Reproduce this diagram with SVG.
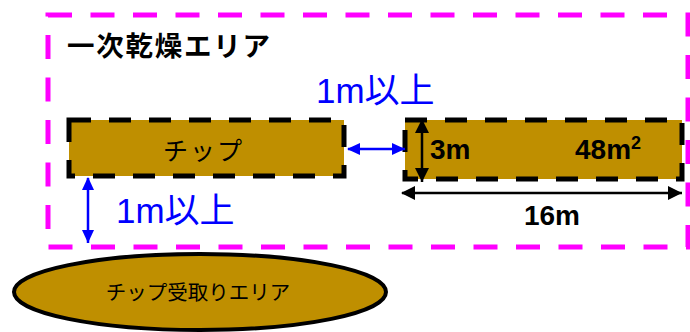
<svg xmlns="http://www.w3.org/2000/svg" width="690" height="332" viewBox="0 0 690 332">
<style>
.area{fill:none;stroke:#FF00FF;stroke-width:5;stroke-dasharray:24 18.5}
.box{fill:#BF8F00;stroke:#000;stroke-width:5;stroke-dasharray:22 18}
.oval{fill:#BF8F00;stroke:#000;stroke-width:4}
.jp{font-family:"Noto Sans CJK JP","Liberation Sans",sans-serif;fill:#000}
.blue{font-family:"Liberation Sans","Noto Sans CJK JP",sans-serif;fill:#0000FF;font-size:35px}
.dim{font-family:"Liberation Sans",sans-serif;font-weight:bold;font-size:28px;fill:#000}
.barr{stroke:#0000FF;stroke-width:2.5;fill:none;marker-start:url(#bs);marker-end:url(#be)}
.karr{stroke:#000;stroke-width:2.5;fill:none;marker-start:url(#ks);marker-end:url(#ke)}
</style>
<defs>
<marker id="be" markerUnits="userSpaceOnUse" markerWidth="14" markerHeight="12" refX="13" refY="6" orient="auto"><path d="M0,0 L13,6 L0,12 Z" fill="#0000FF"/></marker>
<marker id="bs" markerUnits="userSpaceOnUse" markerWidth="14" markerHeight="12" refX="1" refY="6" orient="auto"><path d="M13,0 L0,6 L13,12 Z" fill="#0000FF"/></marker>
<marker id="ke" markerUnits="userSpaceOnUse" markerWidth="15" markerHeight="14" refX="14" refY="7" orient="auto"><path d="M0,0 L14,7 L0,14 Z" fill="#000"/></marker>
<marker id="ks" markerUnits="userSpaceOnUse" markerWidth="15" markerHeight="14" refX="1" refY="7" orient="auto"><path d="M14,0 L0,7 L14,14 Z" fill="#000"/></marker>
</defs>
<g id="drying-area">
<rect class="area" x="48" y="15" width="640" height="232"/>
<text class="jp" x="67" y="56" font-size="27.5" font-weight="bold" textLength="203" lengthAdjust="spacing">一次乾燥エリア</text>
</g>
<g id="chip">
<rect class="box" x="69" y="120" width="275" height="56"/>
<text class="jp" x="163" y="160" font-size="25" textLength="79" lengthAdjust="spacing">チップ</text>
</g>
<g id="area48">
<rect class="box" x="405" y="120" width="277" height="59"/>
<text class="dim" x="430" y="159">3m</text>
<text class="dim" x="575" y="159">48m<tspan font-size="18" dy="-10">2</tspan></text>
</g>
<g id="receiving">
<ellipse class="oval" cx="200" cy="292" rx="186" ry="38"/>
<text class="jp" x="198" y="300" font-size="20.5" text-anchor="middle">チップ受取りエリア</text>
</g>
<g id="connectors">
<line class="barr" x1="348" y1="149" x2="405" y2="149"/>
<line class="barr" x1="88" y1="178" x2="88" y2="243"/>
<line class="karr" x1="422" y1="120" x2="422" y2="182"/>
<line class="karr" x1="402" y1="193" x2="682" y2="193"/>
</g>
<g id="labels">
<text class="blue" x="316" y="103">1m以上</text>
<text class="blue" x="116" y="223">1m以上</text>
<text class="dim" x="552" y="225" text-anchor="middle">16m</text>
</g>
</svg>
